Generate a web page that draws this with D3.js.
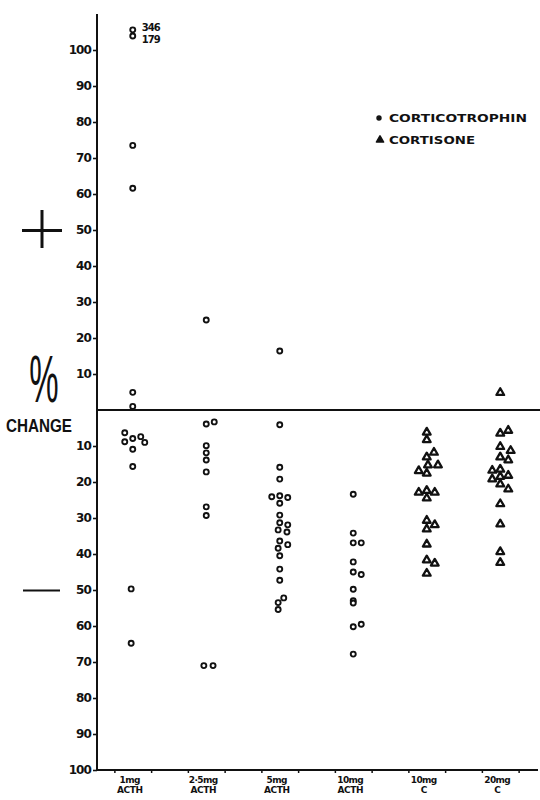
<!DOCTYPE html>
<html>
<head>
<meta charset="utf-8">
<script src="https://cdn.jsdelivr.net/npm/d3@7"></script>
<style>
  html, body { margin: 0; padding: 0; background: #fff; }
  svg { display: block; }
</style>
</head>
<body>
<script>
// ---------------- DATA ----------------
const categories = ["1mg ACTH", "2·5mg ACTH", "5mg ACTH", "10mg ACTH", "10mg C", "20mg C"];
const doseLabels = ["1mg", "2·5mg", "5mg", "10mg", "10mg", "20mg"];
const drugLabels = ["ACTH", "ACTH", "ACTH", "ACTH", "C", "C"];
const drugType   = ["Corticotrophin", "Corticotrophin", "Corticotrophin", "Corticotrophin", "Cortisone", "Cortisone"];

// % change per patient (positive = increase, negative = decrease)
const acth1mg     = [1.0, 4.9, 61.6, 73.5, -6.3, -8.8, -7.9, -7.4, -9.0, -10.9, -15.7, -49.7, -64.8];
const acth1mgLane = [0, 0, 0, 0, -1, -1, 0, 1, 1.5, 0, 0, -0.2, -0.2];
// off-scale values in the 1mg group (shown at top of the axis with their value written beside)
const offScaleValues = [346, 179];
const offScaleShownAt = [105.6, 103.9];

const acth25mg     = [25, -3.9, -3.3, -9.9, -11.9, -13.9, -17.2, -26.9, -29.3, -71, -71];
const acth25mgLane = [0, 0, 1, 0, 0, 0, 0, 0, 0, -0.3, 0.85];

const acth5mg     = [16.4, -4.1, -15.9, -19.2, -24.1, -23.8, -24.3, -25.9, -29.2, -31.3, -31.9, -33.3, -33.9, -36.4, -37.4, -38.4, -40.5, -44.2, -47.3, -52.2, -53.5, -55.4];
const acth5mgLane = [0, 0, 0, 0, -1, 0, 1, 0, 0, 0, 1, -0.2, 0.9, 0, 1, -0.2, 0, 0, 0, 0.5, -0.2, -0.2];

const acth10mg     = [-23.4, -34.2, -36.9, -36.9, -42.2, -45.0, -45.7, -49.8, -53.0, -53.6, -60.2, -59.5, -67.8];
const acth10mgLane = [0, 0, 0, 1, 0, 0, 1, 0, 0, 0, 0, 1, 0];

const cort10mg     = [-6.2, -8.3, -11.8, -13.1, -15.3, -15.3, -16.9, -17.6, -22.9, -22.4, -22.9, -24.5, -30.7, -31.9, -33.1, -37.3, -41.7, -42.6, -45.4];
const cort10mgLane = [0, 0, 0.9, 0, 0.15, 1.4, -1, 0, -1, 0, 1, 0, 0, 1, 0, 0, 0, 1, 0];

const cort20mg     = [4.8, -6.5, -5.7, -10.2, -11.3, -13.1, -13.9, -16.8, -16.5, -19.2, -18.5, -18.2, -20.6, -22.0, -26.1, -31.7, -39.4, -42.4];
const cort20mgLane = [0, 0, 1, 0, 1.3, 0, 1, -1, 0, -1, 0, 1, 0, 1, 0, 0, 0, 0];

const groupValues = [acth1mg, acth25mg, acth5mg, acth10mg, cort10mg, cort20mg];
const groupLanes  = [acth1mgLane, acth25mgLane, acth5mgLane, acth10mgLane, cort10mgLane, cort20mgLane];

const yTickValues = [-100, -90, -80, -70, -60, -50, -40, -30, -20, -10, 10, 20, 30, 40, 50, 60, 70, 80, 90, 100];
const legendItems = ["CORTICOTROPHIN", "CORTISONE"];

// ---------------- CHART ----------------
const W = 540, H = 800;
const ink = "#111";
const svg = d3.select("body").append("svg").attr("width", W).attr("height", H);

const y = d3.scaleLinear().domain([-100, 110]).range([770, 14]);
const x = d3.scaleLinear().domain([-0.5, 5.5]).range([96, 537]);
const laneWidth = 8;
const axisX = 97;

// points table
const points = [];
groupValues.forEach((vals, gi) => {
  vals.forEach((v, i) => points.push({ group: gi, value: v, lane: groupLanes[gi][i], type: drugType[gi] }));
});
offScaleValues.forEach((v, i) => points.push({ group: 0, value: offScaleShownAt[i], actual: v, lane: 0, type: drugType[0] }));

// Y axis
const yAxis = d3.axisLeft(y)
  .tickValues(yTickValues)
  .tickSize(4)
  .tickSizeOuter(0)
  .tickPadding(2)
  .tickFormat(d => Math.abs(d));
const gy = svg.append("g").attr("transform", `translate(${axisX},0)`).call(yAxis);
gy.select(".domain").remove();
gy.selectAll(".tick line").attr("stroke", ink).attr("stroke-width", 1.6);
gy.selectAll(".tick text")
  .attr("fill", ink)
  .style("font-family", "DejaVu Sans")
  .style("font-weight", "bold")
  .style("font-size", "12px")
  .attr("letter-spacing", "-0.9");
svg.append("line")
  .attr("x1", axisX).attr("x2", axisX)
  .attr("y1", y(110)).attr("y2", y(-100) + 1)
  .attr("stroke", ink).attr("stroke-width", 2);

// X axis with small ticks either side of each category
const xTickValues = [];
categories.forEach((c, i) => { xTickValues.push(i - 0.25, i + 0.25); });
const xAxis = d3.axisBottom(x).tickValues(xTickValues).tickSize(3).tickSizeOuter(0).tickFormat("");
const gx = svg.append("g").attr("transform", `translate(0,${y(-100)})`).call(xAxis);
gx.select(".domain").remove();
gx.selectAll(".tick line").attr("stroke", ink).attr("stroke-width", 1.5);
svg.append("line")
  .attr("x1", axisX).attr("x2", 538)
  .attr("y1", y(-100)).attr("y2", y(-100))
  .attr("stroke", ink).attr("stroke-width", 2);

// zero line
svg.append("line")
  .attr("x1", axisX).attr("x2", W)
  .attr("y1", y(0)).attr("y2", y(0))
  .attr("stroke", ink).attr("stroke-width", 2);

// category labels
const catG = svg.append("g")
  .style("font-family", "DejaVu Sans").style("font-weight", "bold")
  .style("font-size", "9px").attr("fill", ink).attr("text-anchor", "middle");
categories.forEach((c, i) => {
  const t = catG.append("text").attr("x", x(i) - 3).attr("y", y(-100) + 13);
  t.append("tspan").attr("x", x(i) - 3).attr("letter-spacing", "-0.6").text(doseLabels[i]);
  t.append("tspan").attr("x", x(i) - 3).attr("dy", 9.5).attr("letter-spacing", "-0.4").text(drugLabels[i]);
});

// markers
const triangle = d3.symbol().type(d3.symbolTriangle).size(26);
const px = d => x(d.group) + d.lane * laneWidth;
svg.append("g").selectAll("circle")
  .data(points.filter(d => d.type === "Corticotrophin"))
  .join("circle")
  .attr("cx", px).attr("cy", d => y(d.value))
  .attr("r", 2.5)
  .attr("fill", "#fff").attr("stroke", ink).attr("stroke-width", 1.9);
svg.append("g").selectAll("path")
  .data(points.filter(d => d.type === "Cortisone"))
  .join("path")
  .attr("d", triangle)
  .attr("transform", d => `translate(${px(d)},${y(d.value)})`)
  .attr("fill", "#fff").attr("stroke", ink).attr("stroke-width", 2.3).attr("stroke-linejoin", "round");

// off-scale labels
const offG = svg.append("g")
  .style("font-family", "DejaVu Sans").style("font-weight", "bold")
  .style("font-size", "10px").attr("fill", ink);
points.filter(d => d.actual !== undefined).forEach((d, i) => {
  offG.append("text")
    .attr("x", px(d) + 9)
    .attr("y", y(d.value) + (i === 0 ? 1 : 7))
    .attr("letter-spacing", "-0.9")
    .text(d.actual);
});

// legend
const legG = svg.append("g").attr("transform", "translate(379,118)");
legendItems.forEach((label, i) => {
  const gy2 = i * 22;
  if (i === 0) {
    legG.append("circle").attr("cx", 0).attr("cy", gy2).attr("r", 2)
      .attr("fill", ink).attr("stroke", ink).attr("stroke-width", 1.4);
  } else {
    legG.append("path").attr("d", d3.symbol().type(d3.symbolTriangle).size(22))
      .attr("transform", `translate(1,${gy2})`)
      .attr("fill", ink).attr("stroke", ink).attr("stroke-width", 1.6).attr("stroke-linejoin", "round");
  }
  legG.append("text")
    .attr("x", 10).attr("y", gy2 + 4)
    .attr("textLength", i === 0 ? 138 : 86).attr("lengthAdjust", "spacingAndGlyphs")
    .style("font-family", "DejaVu Sans").style("font-weight", "bold").style("font-size", "11px")
    .attr("fill", ink).text(label);
});

// left-hand annotations: "+ % CHANGE —"
const ann = svg.append("g");
ann.append("line").attr("x1", 22).attr("x2", 62).attr("y1", y(50) + 0.5).attr("y2", y(50) + 0.5)
  .attr("stroke", ink).attr("stroke-width", 3);
ann.append("line").attr("x1", 42).attr("x2", 42).attr("y1", y(50) - 20).attr("y2", y(50) + 18)
  .attr("stroke", ink).attr("stroke-width", 3);
ann.append("text")
  .attr("transform", `translate(44,${y(4) + 6}) scale(0.55,1.1)`)
  .attr("text-anchor", "middle")
  .style("font-family", "Liberation Sans").style("font-size", "60px")
  .attr("fill", ink).text("%");
ann.append("text")
  .attr("x", 6).attr("y", y(0) + 22)
  .attr("textLength", 66).attr("lengthAdjust", "spacingAndGlyphs")
  .style("font-family", "Liberation Sans").style("font-weight", "bold").style("font-size", "19px")
  .attr("fill", ink).text("CHANGE");
ann.append("line").attr("x1", 23).attr("x2", 60).attr("y1", y(-50) + 0.5).attr("y2", y(-50) + 0.5)
  .attr("stroke", ink).attr("stroke-width", 2);
</script>
</body>
</html>
